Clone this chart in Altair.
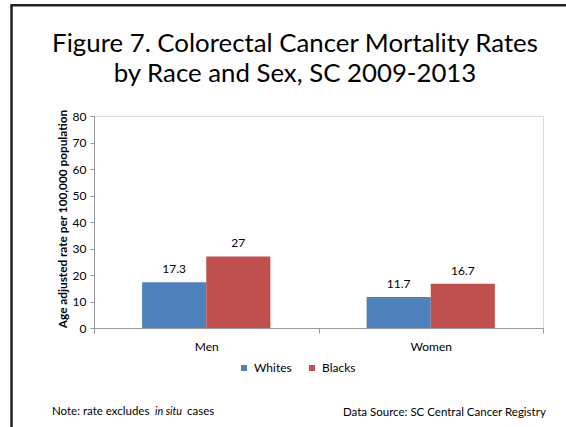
import altair as alt
import pandas as pd

# Age-adjusted colorectal cancer mortality, SC 2009-2013
sexes = ["Men", "Men", "Women", "Women"]
races = ["Whites", "Blacks", "Whites", "Blacks"]
rates = [17.3, 27.0, 11.7, 16.7]
rate_labels = ["17.3", "27", "11.7", "16.7"]

race_order = ["Whites", "Blacks"]
race_colors = ["#4F81BD", "#C0504D"]
y_ticks = [0, 10, 20, 30, 40, 50, 60, 70, 80]

title_lines = ["Figure 7. Colorectal Cancer Mortality Rates", "by Race and Sex, SC 2009-2013"]
note_text = ["Note: rate excludes", "in situ", "cases"]
source_text = "Data Source: SC Central Cancer Registry"

df = pd.DataFrame({"sex": sexes, "race": races, "rate": rates, "label": rate_labels})

FONT = "Lato"
W, H = 449, 212

x_enc = alt.X(
    "sex:N",
    sort=["Men", "Women"],
    scale=alt.Scale(paddingInner=0, paddingOuter=0),
    axis=alt.Axis(
        title=None,
        labelAngle=0,
        tickBand="extent",
        tickSize=5,
        labelPadding=8,
        labelFont=FONT,
        labelFontSize=12,
        labelColor="#000000",
        domainColor="#999999",
        tickColor="#999999",
    ),
)
x_off = alt.XOffset(
    "race:N",
    sort=race_order,
    scale=alt.Scale(domain=race_order, paddingInner=0, paddingOuter=0.75),
)
y_enc = alt.Y(
    "rate:Q",
    scale=alt.Scale(domain=[0, 80], nice=False),
    axis=alt.Axis(
        values=y_ticks,
        tickCount=9,
        labelOverlap=False,
        grid=False,
        tickSize=4,
        labelPadding=4,
        labelFont=FONT,
        labelFontSize=12,
        labelColor="#000000",
        domainColor="#999999",
        tickColor="#999999",
        title="Age adjusted rate per 100,000 population",
        titleFont=FONT,
        titleFontSize=11.8,
        titleFontWeight="bold",
        titleColor="#000000",
        titleX=-32,
        titleY=102.5,
        titleAngle=270,
        titleBaseline="middle",
        titleAlign="center",
    ),
)

bars = alt.Chart(df).mark_bar(stroke=None).encode(
    x=x_enc,
    xOffset=x_off,
    y=y_enc,
    color=alt.Color(
        "race:N",
        sort=race_order,
        scale=alt.Scale(domain=race_order, range=race_colors),
        legend=alt.Legend(
            title=None,
            orient="none",
            direction="horizontal",
            legendX=144,
            legendY=246,
            symbolType="square",
            symbolSize=36,
            symbolStrokeWidth=0,
            labelFont=FONT,
            labelFontSize=12,
            labelColor="#000000",
            labelOffset=4,
            columnPadding=14,
        ),
    ),
)

values = alt.Chart(df).mark_text(
    baseline="bottom", dy=-6, font=FONT, fontSize=12, color="#000000"
).encode(
    x=x_enc,
    xOffset=x_off,
    y=y_enc,
    text="label:N",
)


def text_at(s, x, y, size, **kw):
    return alt.Chart(pd.DataFrame({"t": [s]})).mark_text(
        font=FONT, fontSize=size, color="#000000", **kw
    ).encode(text="t:N", x=alt.value(x), y=alt.value(y))


# Two-line title
title1 = text_at(title_lines[0], 201, -64, 25.8, align="center", baseline="alphabetic")
title2 = text_at(title_lines[1], 201, -34, 25.8, align="center", baseline="alphabetic")

# Footnotes
note1 = text_at(note_text[0], -42, 296, 11.5, align="left", baseline="middle")
note2 = text_at(note_text[1], 61, 296, 10.8, align="left", baseline="middle", fontStyle="italic")
note3 = text_at(note_text[2], 93, 296, 11.5, align="left", baseline="middle")
source = text_at(source_text, 249, 297, 11.5, align="left", baseline="middle")

# Frame lines (left and top edges)
frame_left = alt.Chart(pd.DataFrame({"k": [0]})).mark_rule(
    color="#222222", strokeWidth=2.5
).encode(x=alt.value(-82.5), y=alt.value(-111), y2=alt.value(320))
frame_top = alt.Chart(pd.DataFrame({"k": [0]})).mark_rule(
    color="#222222", strokeWidth=2.5
).encode(x=alt.value(-83.5), x2=alt.value(480), y=alt.value(-110.7))

chart = alt.layer(
    bars, values, title1, title2, note1, note2, note3, source, frame_left, frame_top
).properties(
    width=W,
    height=H,
    autosize=alt.AutoSizeParams(type="none"),
    padding={"left": 94, "top": 116, "right": 23, "bottom": 99},
).configure_view(
    stroke=None
).configure(
    background="#FFFFFF"
)

chart.save("out.html", embed_options={"renderer": "svg", "actions": False})
